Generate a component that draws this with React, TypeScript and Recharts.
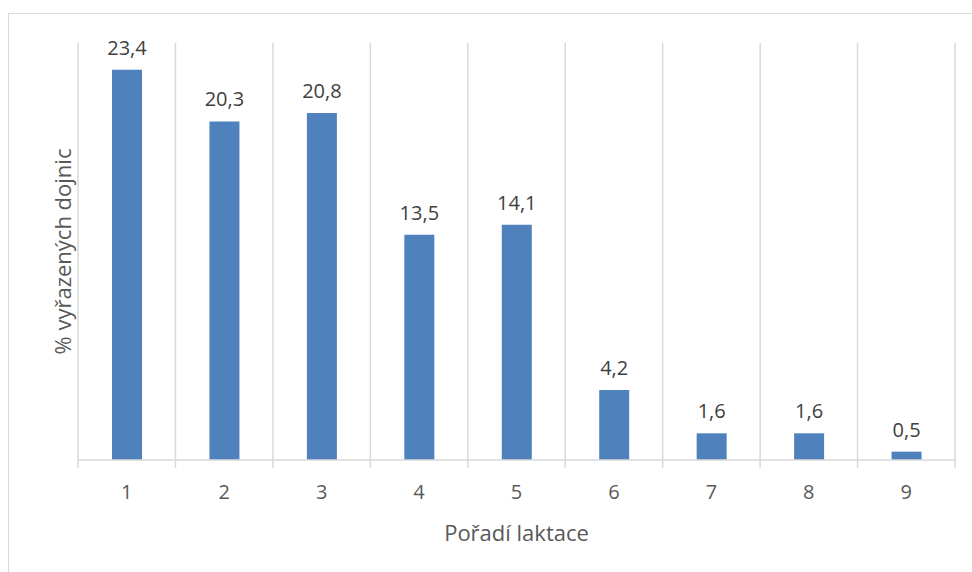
import { BarChart, Bar, XAxis, YAxis, CartesianGrid, LabelList, Label } from "recharts";

// Share of culled cows by lactation number
const lactations = ["1", "2", "3", "4", "5", "6", "7", "8", "9"];
const culledShare = [23.4, 20.3, 20.8, 13.5, 14.1, 4.2, 1.6, 1.6, 0.5];

const data = lactations.map((lactation, i) => ({ lactation, share: culledShare[i] }));

const W = 972;
const H = 572;
const AXIS_H = 112;
const margin = { top: 43, right: 17, bottom: 0, left: 78 };
const plotW = W - margin.left - margin.right;
const band = plotW / lactations.length;
const axisY = H - AXIS_H;
const FONT = "'Open Sans', sans-serif";
const GRID = "#d9d9d9";

const fmt = (v: number) => String(v).replace(".", ",");

// category label plus the boundary tick marks under the axis line
function LactationTick(props: any) {
  const { x, payload, index } = props;
  const left = x - band / 2;
  return (
    <g>
      <line x1={left} x2={left} y1={axisY} y2={axisY + 8} stroke={GRID} strokeWidth={1.5} />
      {index === lactations.length - 1 && (
        <line x1={left + band} x2={left + band} y1={axisY} y2={axisY + 8} stroke={GRID} strokeWidth={1.5} />
      )}
      <text x={x} y={axisY + 39} textAnchor="middle" fontSize={20} fill="#595959" fontFamily={FONT}>
        {payload.value}
      </text>
    </g>
  );
}

export default function App() {
  const midY = (margin.top + axisY) / 2;
  return (
    <div style={{ position: "absolute", left: 0, top: 0, width: W, height: H, overflow: "hidden", background: "#fff" }}>
      <div
        style={{
          position: "absolute",
          left: 8,
          top: 13,
          width: 1000,
          height: 700,
          border: `1px solid ${GRID}`,
        }}
      />
      <BarChart width={W} height={H} data={data} margin={margin} barSize={30}>
        <CartesianGrid
          horizontal={false}
          stroke={GRID}
          strokeWidth={1.5}
          verticalCoordinatesGenerator={({ offset }: any) =>
            Array.from({ length: lactations.length + 1 }, (_, i) => offset.left + (i * offset.width) / lactations.length)
          }
        />
        <XAxis
          dataKey="lactation"
          height={AXIS_H}
          tickLine={false}
          axisLine={{ stroke: GRID, strokeWidth: 1.5 }}
          tick={<LactationTick />}
          interval={0}
        >
          <Label
            value="Pořadí laktace"
            position="insideBottom"
            offset={31}
            fill="#595959"
            fontSize={22}
            fontFamily={FONT}
          />
        </XAxis>
        <YAxis hide domain={[0, 25]} />
        <Bar dataKey="share" fill="#4f81bd" isAnimationActive={false}>
          <LabelList
            dataKey="share"
            position="top"
            offset={15}
            formatter={(v: any) => fmt(v)}
            fill="#404040"
            fontSize={20}
            fontFamily={FONT}
          />
        </Bar>
        <text
          x={62}
          y={midY}
          transform={`rotate(-90 62 ${midY})`}
          textAnchor="middle"
          dominantBaseline="central"
          fontSize={22}
          fill="#595959"
          fontFamily={FONT}
        >
          % vyřazených dojnic
        </text>
      </BarChart>
    </div>
  );
}
